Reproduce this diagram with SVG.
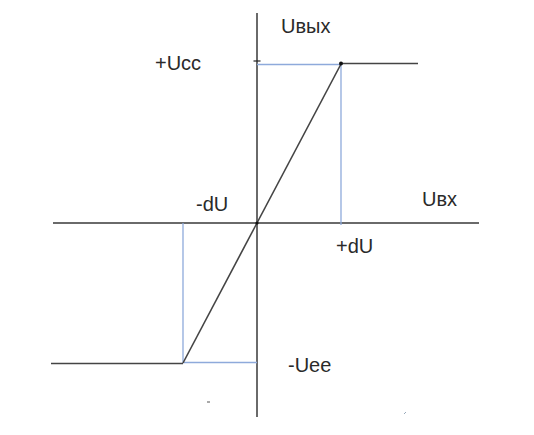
<svg xmlns="http://www.w3.org/2000/svg" width="534" height="435" viewBox="0 0 534 435">
<style>
.axis{stroke:#6a6a6a;stroke-width:2;fill:none}
.lvl{stroke:#444;stroke-width:1.6;fill:none}
.guide{stroke:#8eaadb;stroke-width:1.3;fill:none}
.lbl{font-family:"Liberation Sans",Arial,sans-serif;font-size:20px;fill:#2a2a2a}
</style>
<rect width="534" height="435" fill="#fff"/>
<g id="connectors">
<line class="axis" x1="257" y1="13" x2="257" y2="417"/>
<line class="axis" x1="53" y1="223" x2="479" y2="223"/>
<line class="guide" x1="257" y1="64.5" x2="341" y2="64.5"/>
<line class="guide" x1="341" y1="64.5" x2="341" y2="225"/>
<line class="guide" x1="183" y1="223" x2="183" y2="362.5"/>
<line class="guide" x1="183" y1="362.5" x2="257" y2="362.5"/>
<line class="lvl" x1="341" y1="63.5" x2="418" y2="63.5"/>
<line class="lvl" x1="51" y1="363.5" x2="183" y2="363.5"/>
<line class="lvl" x1="183" y1="363" x2="341" y2="64"/>
<line stroke="#222" stroke-width="1.2" x1="253.5" y1="61" x2="260.5" y2="61"/>
<circle cx="341" cy="63.5" r="2" fill="#111"/>
<circle cx="257" cy="223" r="1.6" fill="#111"/>
<line stroke="#555" stroke-width="1" x1="207" y1="402" x2="210" y2="402"/>
<line stroke="#9ab" stroke-width="1" x1="404" y1="414" x2="406" y2="412"/>
</g>
<g id="label-uout"><text class="lbl" x="281" y="33">Uвых</text></g>
<g id="label-ucc"><text class="lbl" x="155" y="70">+Ucc</text></g>
<g id="label-mdu"><text class="lbl" x="196" y="211">-dU</text></g>
<g id="label-uin"><text class="lbl" x="422" y="206">Uвх</text></g>
<g id="label-pdu"><text class="lbl" x="336" y="253">+dU</text></g>
<g id="label-uee"><text class="lbl" x="288" y="372">-Uee</text></g>
</svg>
